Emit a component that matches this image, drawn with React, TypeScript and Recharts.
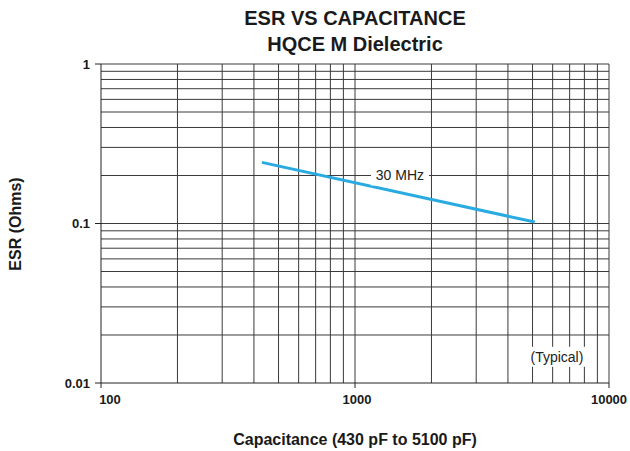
import { LineChart, Line, XAxis, YAxis, ReferenceLine, ReferenceDot } from 'recharts';

// 측정값 (430 pF ~ 5100 pF, 30 MHz)
const capacitance = [430, 5100];
const esr30MHz = [0.2417, 0.1021];

const xTicks = [100, 1000, 10000];
const yTicks = [0.01, 0.1, 1];

// 로그 격자선
const xGrid = [200, 300, 400, 500, 600, 700, 800, 900, 1000, 2000, 3000, 4000, 5000, 6000, 7000, 8000, 9000, 10000];
const yGrid = [0.02, 0.03, 0.04, 0.05, 0.06, 0.07, 0.08, 0.09, 0.1, 0.2, 0.3, 0.4, 0.5, 0.6, 0.7, 0.8, 0.9, 1];

const data = capacitance.map((c, i) => ({ cap: c, esr: esr30MHz[i] }));

const FONT = '"Liberation Sans", Arial, Helvetica, sans-serif';
const GRID = '#3a3a3a';

// eslint-disable-next-line @typescript-eslint/no-explicit-any
const boxLabel = (text: string, w: number) => (props: any) => {
  const { viewBox } = props;
  const cx = viewBox.x + (viewBox.width || 0) / 2;
  const cy = viewBox.y + (viewBox.height || 0) / 2;
  return (
    <g>
      <rect x={cx - w / 2} y={cy - 10} width={w} height={20} fill="#fff" />
      <text x={cx} y={cy} textAnchor="middle" dominantBaseline="central" fontSize={14} fill="#222" fontFamily={FONT}>
        {text}
      </text>
    </g>
  );
};

const tickStyle = { fontSize: 13, fontWeight: 'bold', fill: '#1a1a1a', fontFamily: FONT };

// x축 눈금: 100은 0.01과 겹치지 않게 오른쪽으로 살짝
// eslint-disable-next-line @typescript-eslint/no-explicit-any
const XTick = (props: any) => {
  const { x, y, payload } = props;
  const dx = payload.value === 100 ? 9 : payload.value === 1000 ? 2 : 0;
  return (
    <text x={x + dx} y={y} dy="0.71em" textAnchor="middle" {...tickStyle}>
      {payload.value}
    </text>
  );
};

export default function App() {
  return (
    <div style={{ position: 'absolute', left: 0, top: 0, width: 630, height: 451, background: '#fff', fontFamily: FONT }}>
      <div style={{ position: 'absolute', left: 101, width: 508, top: 5, textAlign: 'center', fontWeight: 'bold', fontSize: 20, lineHeight: '26px', color: '#1a1a1a' }}>
        ESR VS CAPACITANCE
        <br />
        HQCE M Dielectric
      </div>
      <div style={{ position: 'absolute', left: 101, width: 508, top: 431, lineHeight: '18px', textAlign: 'center', fontWeight: 'bold', fontSize: 16, color: '#1a1a1a' }}>
        Capacitance (430 pF to 5100 pF)
      </div>
      <div
        style={{
          position: 'absolute', left: 16, top: 224, transform: 'translate(-50%, -50%) rotate(-90deg)',
          whiteSpace: 'nowrap', fontWeight: 'bold', fontSize: 16, lineHeight: '18px', color: '#1a1a1a',
        }}
      >
        ESR (Ohms)
      </div>
      <LineChart width={630} height={451} data={data} margin={{ top: 64, right: 21, bottom: 0, left: 0 }}>
        <XAxis
          dataKey="cap"
          type="number"
          scale="log"
          domain={[100, 10000]}
          ticks={xTicks}
          allowDataOverflow
          tick={<XTick />}
          tickSize={5}
          tickMargin={7}
          stroke="#222"
          height={68}
        />
        <YAxis
          type="number"
          scale="log"
          domain={[0.01, 1]}
          ticks={yTicks}
          allowDataOverflow
          tick={tickStyle}
          tickFormatter={(v: number) => String(v)}
          tickSize={6}
          tickMargin={5}
          stroke="#222"
          width={101}
        />
        {xGrid.map((v) => (
          <ReferenceLine key={'x' + v} x={v} stroke={GRID} strokeWidth={1} ifOverflow="extendDomain" />
        ))}
        {yGrid.map((v) => (
          <ReferenceLine key={'y' + v} y={v} stroke={GRID} strokeWidth={1} ifOverflow="extendDomain" />
        ))}
        <ReferenceDot x={1503} y={0.2} r={0} label={boxLabel('30 MHz', 58)} />
        <ReferenceDot x={6237} y={0.0146} r={0} label={boxLabel('(Typical)', 58)} />
        <Line
          dataKey="esr"
          stroke="#29abe2"
          strokeWidth={3}
          dot={false}
          isAnimationActive={false}
        />
      </LineChart>
    </div>
  );
}
